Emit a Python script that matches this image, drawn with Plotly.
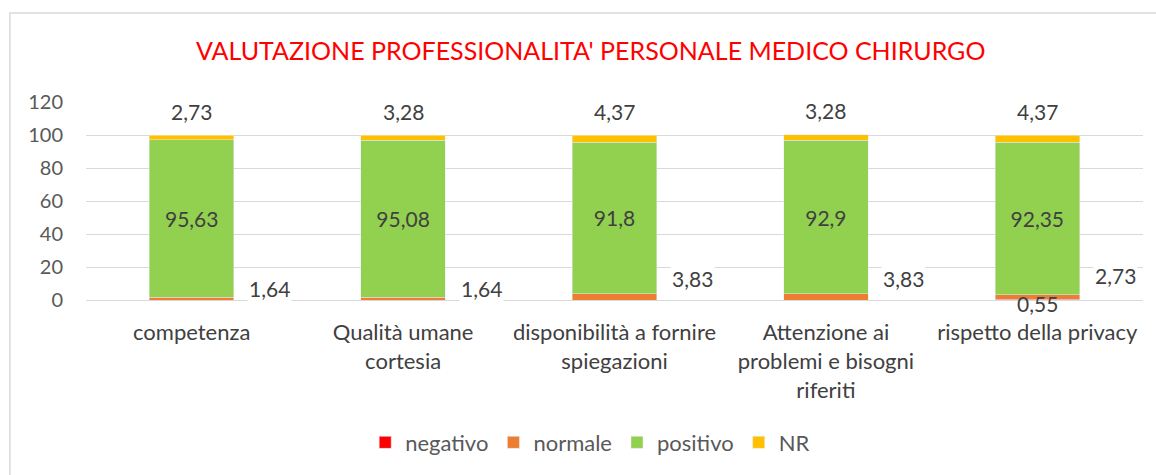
import plotly.graph_objects as go

categories = ["competenza", "Qualità umane<br>cortesia", "disponibilità a fornire<br>spiegazioni",
              "Attenzione ai<br>problemi e bisogni<br>riferiti", "rispetto della privacy"]
negativo = [0, 0, 0, 0, 0.55]
normale = [1.64, 1.64, 3.83, 3.83, 2.73]
positivo = [95.63, 95.08, 91.8, 92.9, 92.35]
nr = [2.73, 3.28, 4.37, 3.28, 4.37]

def fmt(v):
    return f"{v:g}".replace(".", ",")

FONT = "Lato"
TXT = "#595959"
LBL = "#404040"
LS = 21
fig = go.Figure()
fig.add_bar(name="negativo", x=categories, y=negativo, marker_color="#FF0000", width=0.4)
fig.add_bar(name="normale", x=categories, y=normale, marker_color="#ED7D31", width=0.4)
fig.add_bar(name="positivo", x=categories, y=positivo, marker_color="#92D050", width=0.4,
            text=[fmt(v) for v in positivo], textposition="inside", insidetextanchor="middle",
            textfont=dict(family=FONT, size=LS, color=LBL), textangle=0)
fig.add_bar(name="NR", x=categories, y=nr, marker_color="#FFC000", width=0.4)

ann = []
norm_yshift = [12, 12, 22, 22, 25]
for i, c in enumerate(categories):
    total = negativo[i] + normale[i] + positivo[i] + nr[i]
    ann.append(dict(x=c, y=total, text=fmt(nr[i]), showarrow=False, yshift=24,
                    font=dict(family=FONT, size=LS, color=LBL)))
    ann.append(dict(x=c, y=0, text=fmt(normale[i]), showarrow=False, yshift=norm_yshift[i], xshift=78,
                    bgcolor="white", font=dict(family=FONT, size=LS, color=LBL)))
    if negativo[i] > 0:
        ann.append(dict(x=c, y=0, text=fmt(negativo[i]), showarrow=False, yshift=-3,
                        font=dict(family=FONT, size=LS, color=LBL)))
ann.append(dict(xref="paper", yref="paper", x=0.477, y=1, yshift=52, yanchor="middle",
                text="VALUTAZIONE PROFESSIONALITA' PERSONALE MEDICO CHIRURGO", showarrow=False,
                font=dict(family=FONT, size=25, color="#FF0000")))

fig.update_layout(
    barmode="stack", width=1156, height=475,
    margin=dict(l=86, r=13, t=102, b=175, autoexpand=False),
    paper_bgcolor="white", plot_bgcolor="white",
    font=dict(family=FONT, size=LS, color=TXT),
    annotations=ann,
    legend=dict(orientation="h", x=0.477, xanchor="center", y=-0.72, yanchor="middle",
                font=dict(family=FONT, size=22, color=TXT), traceorder="normal",
                itemwidth=30),
    shapes=[dict(type="rect", xref="paper", yref="paper", x0=-0.072, x1=1.03, y0=-0.95, y1=1.449,
                 line=dict(color="#D9D9D9", width=1.5), layer="below")],
    showlegend=True,
)
fig.update_yaxes(range=[0, 120], dtick=20, showgrid=True, gridcolor="#D9D9D9", gridwidth=1,
                 zeroline=False, showline=False, tickfont=dict(family=FONT, size=20, color=TXT),
                 ticklabelstandoff=22)
fig.update_xaxes(showline=True, linecolor="#D9D9D9", tickfont=dict(family=FONT, size=22, color=LBL),
                 ticks="", tickangle=0, ticklabelstandoff=13)
fig.write_html("out.html", config={"displayModeBar": False},
               post_script="document.body.style.margin='0';document.body.style.overflow='hidden';")
